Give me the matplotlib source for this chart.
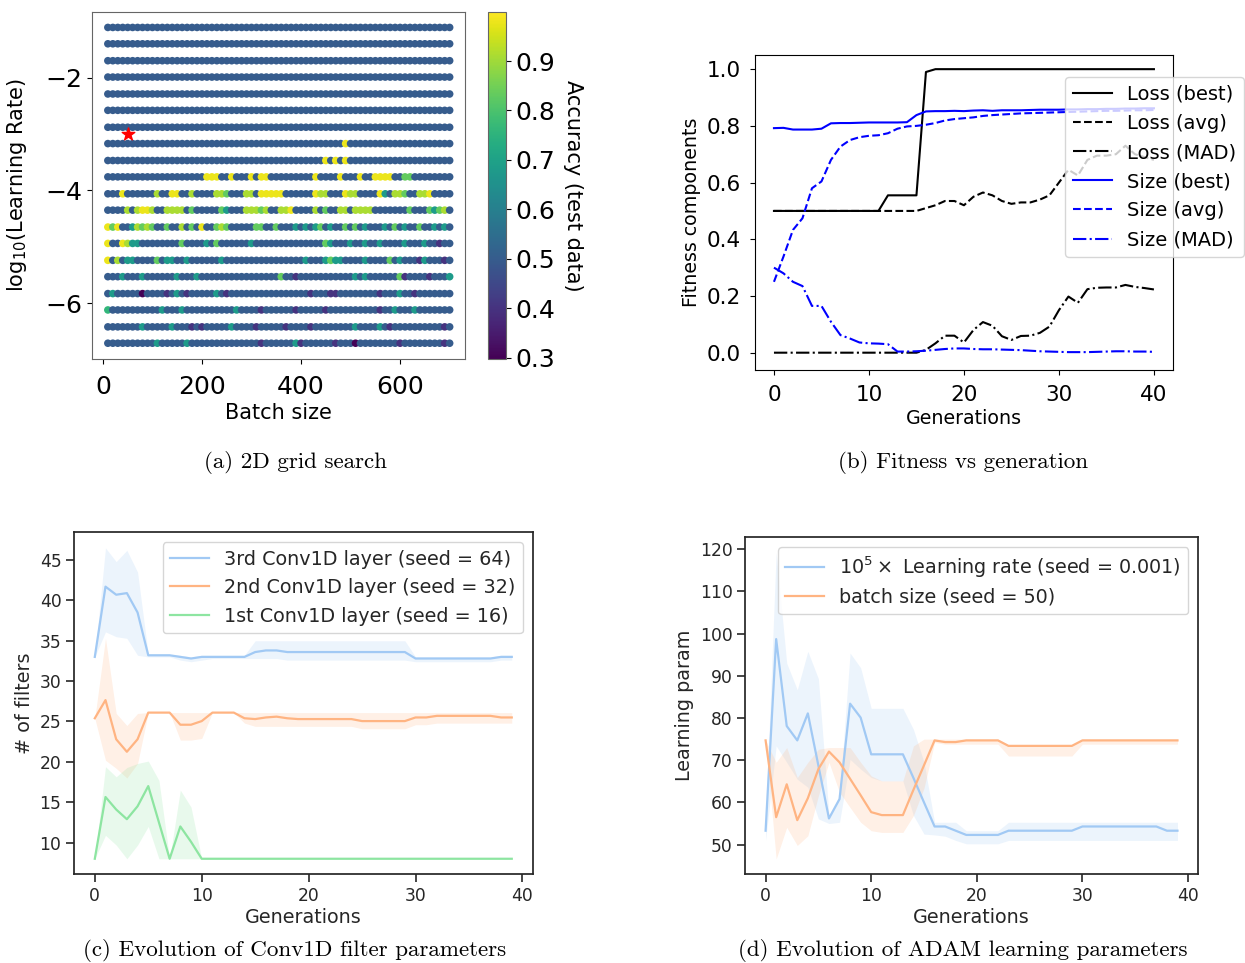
import numpy as np
import matplotlib.pyplot as plt

# ---- (a) 2D grid search: batch size x log10(learning rate) ----
batch_sizes = np.arange(10, 701, 10)
log_lr = [-1.11, -1.40, -1.70, -1.99, -2.29, -2.58, -2.88, -3.17, -3.47, -3.76,
          -4.06, -4.35, -4.65, -4.94, -5.24, -5.53, -5.83, -6.12, -6.42, -6.71]
base_acc = 0.50
acc_levels = {'Y': 0.98, 'L': 0.91, 'G': 0.83, 'g': 0.76, 'T': 0.68, 'P': 0.40, 'D': 0.30}
# per row (top to bottom): "<batch index or range><level>" for cells that differ from base_acc
row_marks = [
    "", "", "", "", "", "", "",
    "48Y",
    "44Y 46Y 48Y",
    "20-22Y 25Y 29Y 31-32Y 42Y 47Y 51Y 54-57Y 60-61G",
    "3Y 10L 13-14Y 17L 22-23L 24G 28-29L 31-35Y 42Y 43-44L 48Y 49-50L 55Y 56T 58-59L 60G 63-64L 65Y",
    "4L 6L 7-8Y 9L 12-15L 17G 23G 24T 28-30L 31G 32L 35-36L 37Y 42L 44G 47-48L 50-53L 61G 65G 66T 67G 68L",
    "0Y 1G 2Y 5T 6L 7G 8L 9G 12G 15L 17G 19Y 22G 23L 24G 30-31G 34G 38T 40T 42T 43G 45T 48G 50G 52T 56T 58G 60T 63G 66T 68T",
    "0Y 3Y 4L 5-6T 15G 20T 22G 29T 44G 45T 49T 52T 55T 60T 64T 67P",
    "0Y 2L 4-5T 10G 12-13T 16T 23T 40T 44T 45G 46-47T 52T 57G 59T 63P 64T 68P",
    "3T 7T 14T 18T 35G 38P 50T 52T 59G 60P 65P 69T",
    "1T 7D 12P 14T 16P 22T 24P 41P 45-46P 55P 59T 62P",
    "0g 11T 15T 26T 31P 38P 44P 55P 58T 62T",
    "7T 13T 17P 19P 25T 30P 36P 41P 50T 55T 57P 68P",
    "10T 16T 31P 38T 39P 46P 50D 59P 68P",
]
best_batch, best_log_lr = 50, -3.0

# ---- (b) fitness components per generation ----
gens_b = np.arange(41)
loss_best = [0.5, 0.5, 0.5, 0.5, 0.5, 0.5, 0.5, 0.5, 0.5, 0.5, 0.5, 0.5,
             0.555, 0.555, 0.555, 0.555, 0.99,
             1.0, 1.0, 1.0, 1.0, 1.0, 1.0, 1.0, 1.0, 1.0, 1.0, 1.0, 1.0,
             1.0, 1.0, 1.0, 1.0, 1.0, 1.0, 1.0, 1.0, 1.0, 1.0, 1.0, 1.0]
loss_avg = [0.5, 0.5, 0.5, 0.5, 0.5, 0.5, 0.5, 0.5, 0.5, 0.5, 0.5, 0.5, 0.5, 0.5, 0.5, 0.5,
            0.51, 0.52, 0.535, 0.535, 0.52, 0.55, 0.565, 0.555, 0.535, 0.525, 0.53, 0.53,
            0.54, 0.555, 0.60, 0.645, 0.625, 0.68, 0.695, 0.695, 0.70, 0.73, 0.70, 0.69, 0.68]
loss_mad = [0.0, 0.0, 0.0, 0.0, 0.0, 0.0, 0.0, 0.0, 0.0, 0.0, 0.0, 0.0, 0.0, 0.0, 0.0, 0.0,
            0.01, 0.033, 0.06, 0.06, 0.036, 0.08, 0.108, 0.095, 0.058, 0.045, 0.059, 0.06,
            0.07, 0.092, 0.15, 0.198, 0.176, 0.224, 0.229, 0.23, 0.23, 0.239, 0.232, 0.228, 0.223]
size_best = [0.792, 0.793, 0.787, 0.787, 0.787, 0.79, 0.809, 0.81, 0.81, 0.811, 0.812,
             0.812, 0.812, 0.812, 0.813, 0.838, 0.851, 0.852, 0.852, 0.853, 0.852, 0.854,
             0.855, 0.853, 0.855, 0.855, 0.855, 0.856, 0.857, 0.857, 0.857, 0.858, 0.858,
             0.859, 0.859, 0.86, 0.86, 0.861, 0.861, 0.862, 0.862]
size_avg = [0.25, 0.339, 0.433, 0.474, 0.58, 0.604, 0.68, 0.727, 0.75, 0.76, 0.765,
            0.767, 0.774, 0.79, 0.798, 0.8, 0.804, 0.81, 0.819, 0.824, 0.827, 0.83,
            0.835, 0.838, 0.84, 0.842, 0.844, 0.845, 0.846, 0.847, 0.848, 0.849, 0.85,
            0.851, 0.852, 0.853, 0.853, 0.854, 0.855, 0.855, 0.856]
size_mad = [0.30, 0.28, 0.25, 0.235, 0.165, 0.165, 0.109, 0.062, 0.05, 0.036, 0.033,
            0.032, 0.03, 0.004, 0.004, 0.005, 0.007, 0.01, 0.013, 0.015, 0.015, 0.013,
            0.012, 0.012, 0.011, 0.01, 0.009, 0.007, 0.005, 0.004, 0.003, 0.002, 0.002,
            0.002, 0.003, 0.004, 0.005, 0.005, 0.004, 0.004, 0.003]

# ---- (c) Conv1D filters: mean with lower/upper band ----
gens_cd = np.arange(40)
conv3_mean = [33.0, 41.7, 40.7, 40.9, 38.5, 33.2, 33.2, 33.2, 33.0, 32.8, 33.0, 33.0, 33.0, 33.0,
              33.0, 33.6, 33.8, 33.8, 33.6, 33.6, 33.6, 33.6, 33.6, 33.6, 33.6, 33.6, 33.6, 33.6,
              33.6, 33.6, 32.8, 32.8, 32.8, 32.8, 32.8, 32.8, 32.8, 32.8, 33.0, 33.0]
conv3_lo = [33.0, 36.1, 35.5, 35.3, 33.2, 33.0, 33.0, 33.0, 32.6, 32.4, 32.6, 32.8, 32.8, 32.8,
            32.8, 32.8, 32.8, 32.8, 32.6, 32.6, 32.6, 32.6, 32.6, 32.6, 32.6, 32.6, 32.6, 32.6,
            32.6, 32.6, 32.4, 32.4, 32.4, 32.4, 32.4, 32.4, 32.4, 32.4, 32.6, 32.6]
conv3_hi = [33.0, 46.5, 44.8, 46.2, 43.5, 33.3, 33.3, 33.3, 33.2, 33.0, 33.2, 33.2, 33.2, 33.2,
            33.2, 35.0, 35.0, 35.0, 35.0, 35.0, 35.0, 35.0, 35.0, 35.0, 35.0, 35.0, 35.0, 35.0,
            35.0, 35.0, 33.0, 33.0, 33.0, 33.0, 33.0, 33.0, 33.0, 33.0, 33.2, 33.2]
conv2_mean = [25.4, 27.65, 22.8, 21.25, 22.8, 26.1, 26.1, 26.1, 24.6, 24.6, 25.05, 26.1, 26.1, 26.1,
              25.4, 25.3, 25.5, 25.6, 25.4, 25.3, 25.3, 25.3, 25.3, 25.3, 25.3, 25.05, 25.05, 25.05,
              25.05, 25.05, 25.5, 25.5, 25.7, 25.7, 25.7, 25.7, 25.7, 25.7, 25.5, 25.5]
conv2_lo = [25.4, 20.2, 19.2, 18.0, 19.8, 26.1, 26.1, 26.1, 22.7, 22.7, 22.9, 26.1, 26.1, 26.1,
            24.8, 24.4, 24.4, 24.4, 24.4, 24.4, 24.4, 24.4, 24.4, 24.4, 24.4, 24.1, 24.1, 24.1,
            24.1, 24.1, 24.6, 24.6, 24.8, 24.8, 24.8, 24.8, 24.8, 24.8, 24.8, 24.8]
conv2_hi = [25.4, 35.3, 26.0, 24.5, 26.0, 26.1, 26.1, 26.1, 26.1, 26.1, 26.1, 26.1, 26.1, 26.1,
            26.1, 26.1, 26.1, 26.1, 26.1, 26.1, 26.1, 26.1, 26.1, 26.1, 26.1, 26.1, 26.1, 26.1,
            26.1, 26.1, 26.1, 26.1, 26.1, 26.1, 26.1, 26.1, 26.1, 26.1, 26.1, 26.1]
conv1_mean = [8.0, 15.65, 14.1, 12.9, 14.5, 17.0, 12.5, 8.0, 12.0, 10.1, 8.0, 8.0, 8.0, 8.0,
              8.0, 8.0, 8.0, 8.0, 8.0, 8.0, 8.0, 8.0, 8.0, 8.0, 8.0, 8.0, 8.0, 8.0,
              8.0, 8.0, 8.0, 8.0, 8.0, 8.0, 8.0, 8.0, 8.0, 8.0, 8.0, 8.0]
conv1_lo = [8.0, 10.9, 9.7, 8.0, 9.7, 12.0, 8.0, 8.0, 8.0, 8.0, 8.0, 8.0, 8.0, 8.0,
            8.0, 8.0, 8.0, 8.0, 8.0, 8.0, 8.0, 8.0, 8.0, 8.0, 8.0, 8.0, 8.0, 8.0,
            8.0, 8.0, 8.0, 8.0, 8.0, 8.0, 8.0, 8.0, 8.0, 8.0, 8.0, 8.0]
conv1_hi = [8.0, 19.4, 18.15, 19.3, 19.8, 20.1, 17.7, 8.0, 16.5, 14.4, 8.0, 8.0, 8.0, 8.0,
            8.0, 8.0, 8.0, 8.0, 8.0, 8.0, 8.0, 8.0, 8.0, 8.0, 8.0, 8.0, 8.0, 8.0,
            8.0, 8.0, 8.0, 8.0, 8.0, 8.0, 8.0, 8.0, 8.0, 8.0, 8.0, 8.0]

# ---- (d) ADAM parameters: mean with lower/upper band ----
lr_mean = [53.3, 98.7, 78.1, 74.7, 81.1, 68.7, 56.2, 60.8, 83.4, 80.1, 71.4, 71.4, 71.4, 71.4,
           65.8, 60.0, 54.3, 54.3, 53.3, 52.3, 52.3, 52.3, 52.3, 53.3, 53.3, 53.3, 53.3, 53.3,
           53.3, 53.3, 54.3, 54.3, 54.3, 54.3, 54.3, 54.3, 54.3, 54.3, 53.3, 53.3]
lr_lo = [51.0, 73.4, 69.5, 65.5, 63.6, 56.1, 55.0, 55.3, 70.2, 67.9, 65.9, 65.1, 65.1, 65.1,
         56.9, 52.5, 52.3, 52.0, 51.0, 50.2, 50.2, 50.2, 50.2, 51.0, 51.0, 51.0, 51.0, 51.0,
         51.0, 51.0, 51.0, 51.0, 51.0, 51.0, 51.0, 51.0, 51.0, 51.0, 51.0, 51.0]
lr_hi = [55.4, 119.2, 93.0, 86.7, 95.8, 89.3, 57.0, 61.5, 95.4, 91.9, 82.3, 82.3, 82.3, 82.3,
         77.3, 69.5, 55.3, 55.3, 55.3, 53.3, 53.3, 53.3, 53.3, 55.3, 55.3, 55.3, 55.3, 55.3,
         55.3, 55.3, 55.3, 55.3, 55.3, 55.3, 55.3, 55.3, 55.3, 55.3, 55.3, 55.3]
bs_mean = [74.7, 56.5, 64.3, 55.8, 61.0, 67.9, 72.05, 69.5, 65.6, 61.7, 57.7, 57.0, 57.0, 57.0,
           63.0, 68.8, 74.7, 74.3, 74.3, 74.7, 74.7, 74.7, 74.7, 73.4, 73.4, 73.4, 73.4, 73.4,
           73.4, 73.4, 74.7, 74.7, 74.7, 74.7, 74.7, 74.7, 74.7, 74.7, 74.7, 74.7]
bs_lo = [74.7, 46.6, 54.1, 49.8, 52.1, 61.6, 69.5, 62.4, 58.8, 55.3, 53.3, 52.9, 52.9, 52.9,
         56.9, 63.4, 74.2, 73.8, 73.8, 73.8, 73.8, 73.8, 73.8, 71.0, 71.0, 71.0, 71.0, 71.0,
         71.0, 71.0, 73.8, 73.8, 73.8, 73.8, 73.8, 73.8, 73.8, 73.8, 73.8, 73.8]
bs_hi = [74.7, 69.5, 73.0, 65.9, 69.5, 72.6, 73.0, 73.0, 73.0, 69.5, 66.3, 65.1, 65.1, 65.1,
         73.4, 75.0, 75.0, 75.0, 75.0, 75.0, 75.0, 75.0, 75.0, 73.6, 73.6, 73.6, 73.6, 73.6,
         73.6, 73.6, 75.0, 75.0, 75.0, 75.0, 75.0, 75.0, 75.0, 75.0, 75.0, 75.0]

pastel_blue, pastel_orange, pastel_green = '#a1c9f4', '#ffb482', '#8de5a1'
dark = '#262626'
caption_font = dict(family='cmr10', fontsize=16.6)

fig = plt.figure(figsize=(12.45, 9.63), dpi=100)

# ---------- panel (a) ----------
acc = np.full((len(log_lr), len(batch_sizes)), base_acc)
for r, marks in enumerate(row_marks):
    for tok in marks.split():
        span, lvl = tok[:-1], tok[-1]
        a, _, b = span.partition('-')
        acc[r, int(a):int(b or a) + 1] = acc_levels[lvl]
bx, ly = np.meshgrid(batch_sizes, log_lr)

ax_a = fig.add_axes([0.0739, 0.6272, 0.2996, 0.3607])
sc = ax_a.scatter(bx.ravel(), ly.ravel(), c=acc.ravel(), cmap='viridis',
                  vmin=0.297, vmax=1.0, s=30, linewidths=0)
ax_a.scatter([best_batch], [best_log_lr], marker='*', color='red', s=90, zorder=3)
ax_a.set_xlim(-22, 731)
ax_a.set_ylim(-6.99, -0.83)
ax_a.set_xticks([0, 200, 400, 600])
ax_a.set_yticks([-6, -4, -2])
ax_a.tick_params(labelsize=18)
ax_a.tick_params(axis='x', pad=8)
ax_a.set_xlabel('Batch size', fontsize=15, labelpad=3)
ax_a.set_ylabel('log$_{10}$(Learning Rate)', fontsize=15, labelpad=12)
for s in ax_a.spines.values():
    s.set_color('#666666')

cax = fig.add_axes([0.392, 0.6272, 0.0142, 0.3607])
cb = fig.colorbar(sc, cax=cax)
cb.set_ticks([0.3, 0.4, 0.5, 0.6, 0.7, 0.8, 0.9])
cb.ax.tick_params(labelsize=18)
cb.outline.set_edgecolor('#666666')
fig.text(573 / 1245, 1 - 186 / 963, 'Accuracy (test data)', rotation=270,
         fontsize=15, ha='center', va='center')

# ---------- panel (b) ----------
ax_b = fig.add_axes([0.6064, 0.6158, 0.3357, 0.3271])
ax_b.plot(gens_b, loss_best, color='k', ls='-', label='Loss (best)')
ax_b.plot(gens_b, loss_avg, color='k', ls='--', label='Loss (avg)')
ax_b.plot(gens_b, loss_mad, color='k', ls='-.', label='Loss (MAD)')
ax_b.plot(gens_b, size_best, color='b', ls='-', label='Size (best)')
ax_b.plot(gens_b, size_avg, color='b', ls='--', label='Size (avg)')
ax_b.plot(gens_b, size_mad, color='b', ls='-.', label='Size (MAD)')
ax_b.set_ylim(-0.061, 1.05)
ax_b.set_xticks([0, 10, 20, 30, 40])
ax_b.tick_params(labelsize=15.5, pad=7)
ax_b.set_xlabel('Generations', fontsize=13.7, labelpad=3)
ax_b.set_ylabel('Fitness components', fontsize=13.7, labelpad=4)
ax_b.legend(loc='upper left', bbox_to_anchor=(0.7416, 0.930), borderaxespad=0,
            fontsize=14, labelspacing=0.52)

# ---------- panel (c) ----------
def style_sns(ax):
    for s in ax.spines.values():
        s.set_color(dark)
        s.set_linewidth(1.25)
    ax.tick_params(direction='out', length=5.5, width=1.2, colors=dark, labelsize=12.3)


ax_c = fig.add_axes([0.0594, 0.0921, 0.3684, 0.3551])
for mean, lo, hi, col, lab in [
        (conv3_mean, conv3_lo, conv3_hi, pastel_blue, '3rd Conv1D layer (seed = 64)'),
        (conv2_mean, conv2_lo, conv2_hi, pastel_orange, '2nd Conv1D layer (seed = 32)'),
        (conv1_mean, conv1_lo, conv1_hi, pastel_green, '1st Conv1D layer (seed = 16)')]:
    ax_c.plot(gens_cd, mean, color=col, lw=1.6, label=lab)
    ax_c.fill_between(gens_cd, lo, hi, color=col, alpha=0.2, lw=0)
style_sns(ax_c)
ax_c.set_xticks([0, 10, 20, 30, 40])
ax_c.set_xlabel('Generations', fontsize=13.8, color=dark, labelpad=2)
ax_c.set_ylabel('# of filters', fontsize=13.8, color=dark)
ax_c.legend(loc='upper right', fontsize=13.8, labelcolor=dark)

# ---------- panel (d) ----------
ax_d = fig.add_axes([0.5984, 0.0921, 0.3639, 0.35])
for mean, lo, hi, col, lab in [
        (lr_mean, lr_lo, lr_hi, pastel_blue, r'$10^5\times$ Learning rate (seed = 0.001)'),
        (bs_mean, bs_lo, bs_hi, pastel_orange, 'batch size (seed = 50)')]:
    ax_d.plot(gens_cd, mean, color=col, lw=1.6, label=lab)
    ax_d.fill_between(gens_cd, lo, hi, color=col, alpha=0.2, lw=0)
style_sns(ax_d)
ax_d.set_xticks([0, 10, 20, 30, 40])
ax_d.set_xlabel('Generations', fontsize=13.8, color=dark, labelpad=2)
ax_d.set_ylabel('Learning param', fontsize=13.8, color=dark)
ax_d.legend(loc='upper right', fontsize=13.8, labelcolor=dark, labelspacing=0.4)

# ---------- captions ----------
fig.text(295 / 1245, 1 - 462 / 963, '(a) 2D grid search', ha='center', va='center', **caption_font)
fig.text(963 / 1245, 1 - 462 / 963, '(b) Fitness vs generation', ha='center', va='center', **caption_font)
fig.text(295 / 1245, 1 - 950 / 963, '(c) Evolution of Conv1D filter parameters',
         ha='center', va='center', **caption_font)
fig.text(963 / 1245, 1 - 950 / 963, '(d) Evolution of ADAM learning parameters',
         ha='center', va='center', **caption_font)

fig.savefig('out.png', dpi=100)
